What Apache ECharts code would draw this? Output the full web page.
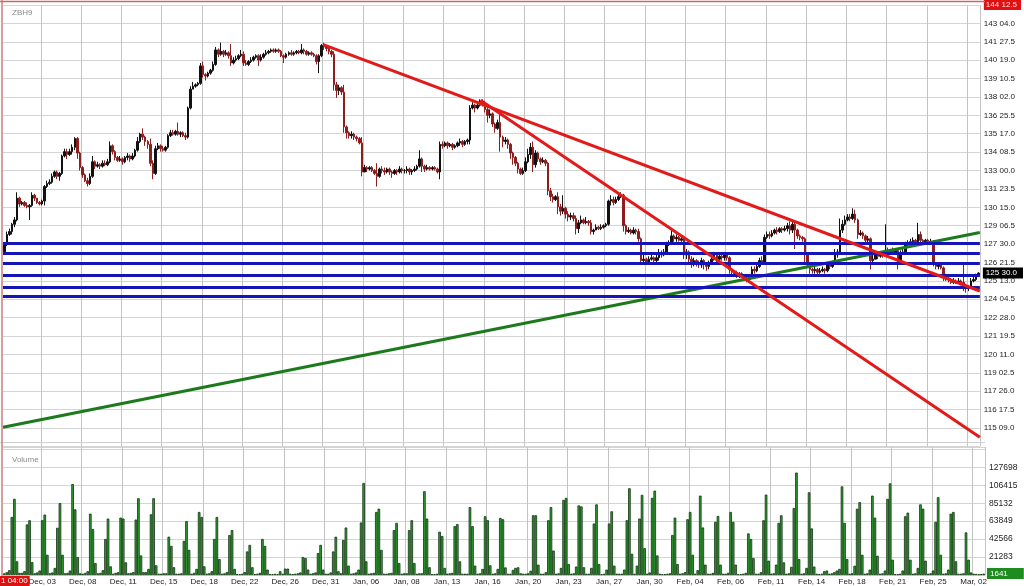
<!DOCTYPE html>
<html>
<head>
<meta charset="utf-8">
<script src="https://cdn.jsdelivr.net/npm/echarts@6/dist/echarts.min.js"></script>
<style>
html,body{margin:0;padding:0;background:#ffffff;}
#chart{width:1024px;height:586px;}
</style>
</head>
<body>
<div id="chart"></div>
<script>
// ---------------- data ----------------
const symbolName = 'ZBH9';
const cursorTime = '1 04:00';

// x-axis date labels (one every 16 four-hour bars, first at bar 15)
const dateLabels = ['Dec, 03','Dec, 08','Dec, 11','Dec, 15','Dec, 18','Dec, 22','Dec, 26','Dec, 31',
  'Jan, 06','Jan, 08','Jan, 13','Jan, 16','Jan, 20','Jan, 23','Jan, 27','Jan, 30',
  'Feb, 04','Feb, 06','Feb, 11','Feb, 14','Feb, 18','Feb, 21','Feb, 25','Mar, 02'];

// price axis labels (points and 32nds)
const priceTickLabels = ['115 09.0','116 17.5','117 26.0','119 02.5','120 11.0','121 19.5','122 28.0',
  '124 04.5','125 13.0','126 21.5','127 30.0','129 06.5','130 15.0','131 23.5','133 00.0','134 08.5',
  '135 17.0','136 25.5','138 02.0','139 10.5','140 19.0','141 27.5','143 04.0','144 12.5'];

// volume axis labels
const volumeTickLabels = [21283, 42566, 63849, 85132, 106415, 127698];

// OHLC bars: [open, close, low, high]
const ohlc = [
[127.4,127.9,127.3,128.0],[127.9,128.6,127.8,128.8],[128.6,128.8,128.5,129.0],[128.8,129.3,128.6,129.4],[129.3,129.6,129.1,129.8],[129.6,131.1,129.5,131.5],[131.1,130.7,130.5,131.2],[130.7,130.8,130.6,130.9],
[130.8,130.6,130.5,130.9],[130.6,130.5,130.4,130.8],[130.5,130.6,129.6,130.7],[130.6,131.3,130.5,131.5],[131.3,131.1,130.9,131.4],[131.1,130.8,130.7,131.1],[130.8,130.7,130.6,130.9],[130.7,130.9,130.6,131.0],
[130.9,131.9,130.6,132.0],[131.9,132.1,131.8,132.3],[132.1,132.2,132.0,132.4],[132.2,132.6,132.1,132.8],[132.6,132.9,132.5,133.0],[132.9,132.6,132.4,133.0],[132.6,132.8,132.3,132.9],[132.8,134.0,132.7,134.1],
[134.0,134.3,133.9,134.5],[134.3,134.1,133.8,134.5],[134.1,134.3,134.0,134.5],[134.3,134.6,134.1,134.8],[134.6,135.2,134.4,135.3],[135.2,134.2,133.8,135.3],[134.2,133.2,133.0,134.3],[133.2,132.7,132.5,133.3],
[132.7,132.3,132.2,132.8],[132.3,132.1,131.9,132.5],[132.1,132.6,132.0,132.8],[132.6,133.6,132.5,134.0],[133.6,133.3,133.1,133.7],[133.3,133.4,133.2,133.6],[133.4,133.3,133.1,133.5],[133.3,133.5,133.2,133.7],
[133.5,133.4,133.3,133.7],[133.4,133.6,133.3,133.8],[133.6,134.7,133.5,135.0],[134.7,134.3,134.1,134.8],[134.3,133.9,133.7,134.4],[133.9,133.7,133.6,134.0],[133.7,133.8,133.6,134.0],[133.8,133.6,133.4,133.9],
[133.6,133.9,133.5,134.0],[133.9,134.0,133.7,134.2],[134.0,133.8,133.6,134.1],[133.8,134.0,133.7,134.2],[134.0,134.4,133.9,134.5],[134.4,135.0,134.3,135.3],[135.0,135.5,134.9,135.6],[135.5,135.3,135.1,135.9],
[135.3,135.0,134.7,135.4],[135.0,134.8,134.5,135.1],[134.8,133.5,133.3,135.2],[133.5,132.8,132.4,133.7],[132.8,134.5,132.7,134.7],[134.5,134.7,134.4,134.9],[134.7,134.5,134.3,134.8],[134.5,134.4,134.3,134.7],
[134.4,134.6,134.3,134.7],[134.6,135.4,134.5,135.5],[135.4,135.6,135.3,135.8],[135.6,135.5,135.4,135.8],[135.5,135.7,135.4,135.8],[135.7,135.5,135.4,136.3],[135.5,135.6,135.3,135.7],[135.6,135.4,135.3,135.7],
[135.4,135.3,135.1,135.6],[135.3,137.3,135.2,137.4],[137.3,138.6,137.2,138.8],[138.6,138.8,138.6,139.1],[138.8,138.9,138.7,139.0],[138.9,139.0,138.8,139.1],[139.0,140.2,138.9,140.4],[140.2,139.6,139.4,140.5],
[139.6,139.5,139.2,139.7],[139.5,139.7,139.4,139.8],[139.7,139.9,139.6,140.0],[139.9,140.3,139.8,140.5],[140.3,141.3,140.2,141.5],[141.3,141.0,140.8,141.4],[141.0,141.2,140.9,141.8],[141.2,141.0,140.8,141.3],
[141.0,141.1,140.9,141.3],[141.1,140.9,140.7,141.2],[140.9,140.4,140.2,141.7],[140.4,140.6,140.3,140.8],[140.6,140.7,140.5,140.9],[140.7,140.9,140.6,141.0],[140.9,141.0,140.8,141.3],[141.0,140.4,140.2,141.2],
[140.4,140.3,140.2,140.6],[140.3,140.5,140.2,140.6],[140.5,140.6,140.4,140.8],[140.6,140.8,140.5,140.9],[140.8,140.9,140.7,141.0],[140.9,140.6,140.2,141.0],[140.6,140.8,140.5,141.0],[140.8,141.0,140.7,141.1],
[141.0,141.1,140.9,141.3],[141.1,141.2,141.0,141.3],[141.2,141.3,141.1,141.4],[141.3,141.2,141.1,141.4],[141.2,141.3,141.1,141.4],[141.3,141.2,141.1,141.4],[141.2,140.9,140.8,141.3],[140.9,140.8,140.4,141.0],
[140.8,141.0,140.7,141.1],[141.0,141.1,140.9,141.2],[141.1,141.0,140.9,141.3],[141.0,141.1,140.9,141.2],[141.1,141.2,141.0,141.3],[141.2,141.1,141.0,141.3],[141.1,141.3,141.0,141.7],[141.3,141.2,141.0,141.4],
[141.2,141.0,140.9,141.3],[141.0,141.1,140.9,141.2],[141.1,141.0,140.9,141.2],[141.0,140.9,140.8,141.1],[140.9,140.5,140.3,141.0],[140.5,140.9,139.7,141.0],[140.9,141.6,140.8,141.7],[141.6,141.5,141.3,141.8],
[141.5,141.4,141.2,141.6],[141.4,141.2,141.0,141.5],[141.2,141.0,140.8,141.3],[141.0,138.9,138.5,141.2],[138.9,138.5,138.0,139.1],[138.5,138.7,138.2,138.9],[138.7,138.4,138.2,138.8],[138.4,136.0,135.6,138.9],
[136.0,135.6,135.2,136.1],[135.6,135.4,135.2,135.7],[135.4,135.5,135.2,135.7],[135.5,135.3,135.1,135.6],[135.3,135.2,135.0,135.4],[135.2,134.9,134.8,135.3],[134.9,132.9,132.6,135.3],[132.9,133.2,132.9,133.4],
[133.2,133.1,132.9,133.3],[133.1,133.2,133.0,133.3],[133.2,133.0,132.9,133.3],[133.0,132.8,132.7,133.1],[132.8,132.6,131.9,133.5],[132.6,133.1,132.5,133.2],[133.1,133.0,132.8,133.3],[133.0,132.9,132.7,133.2],
[132.9,133.1,132.8,133.2],[133.1,132.9,132.7,133.2],[132.9,132.8,132.5,133.0],[132.8,133.0,132.7,133.1],[133.0,132.9,132.7,133.1],[132.9,133.1,132.8,133.3],[133.1,133.0,132.8,133.2],[133.0,133.0,132.8,133.1],
[133.0,133.1,132.8,133.3],[133.1,132.9,132.7,133.2],[132.9,133.0,132.7,133.1],[133.0,133.1,132.9,133.3],[133.1,133.3,133.0,133.4],[133.3,133.8,133.2,134.4],[133.8,133.3,132.9,133.9],[133.3,133.1,132.9,133.4],
[133.1,133.2,133.0,133.4],[133.2,133.1,133.0,133.3],[133.1,133.2,133.0,133.3],[133.2,133.1,133.0,133.3],[133.1,132.9,132.8,133.2],[132.9,134.8,132.4,135.0],[134.8,134.7,134.5,135.0],[134.7,134.9,134.6,135.0],
[134.9,134.7,134.5,135.0],[134.7,134.8,134.6,134.9],[134.8,134.6,134.4,134.9],[134.6,134.7,134.5,134.8],[134.7,134.9,134.6,135.0],[134.9,135.0,134.7,135.2],[135.0,134.8,134.6,135.1],[134.8,135.0,134.7,135.1],
[135.0,135.1,134.8,135.2],[135.1,137.3,134.8,137.5],[137.3,137.5,137.2,137.7],[137.5,137.3,137.0,137.6],[137.3,137.5,137.2,137.7],[137.5,137.7,137.4,137.9],[137.7,137.6,137.4,137.9],[137.6,137.2,137.0,137.8],
[137.2,136.8,136.3,137.4],[136.8,136.9,136.6,137.2],[136.9,136.2,136.0,137.0],[136.2,135.9,135.6,136.3],[135.9,136.3,135.8,136.5],[136.3,135.3,134.3,137.0],[135.3,135.0,134.6,135.4],[135.0,135.1,134.8,135.3],
[135.1,134.8,134.5,135.2],[134.8,134.2,133.8,134.9],[134.2,133.9,133.4,134.3],[133.9,133.5,133.3,134.0],[133.5,133.1,132.8,133.6],[133.1,132.8,132.7,133.2],[132.8,133.0,132.7,133.2],[133.0,133.6,132.9,133.9],
[133.6,134.1,133.5,134.5],[134.1,134.6,133.8,134.9],[134.6,133.4,132.9,135.0],[133.4,134.2,133.2,134.4],[134.2,133.8,133.6,134.3],[133.8,133.6,133.4,133.9],[133.6,133.7,133.5,133.9],[133.7,133.5,133.3,133.8],
[133.5,131.6,131.3,133.6],[131.6,131.2,130.9,131.8],[131.2,131.0,130.8,131.4],[131.0,131.2,130.9,131.3],[131.2,130.5,130.0,131.5],[130.5,130.2,129.9,130.7],[130.2,130.4,130.0,131.3],[130.4,130.0,129.7,130.5],
[130.0,129.8,129.5,130.2],[129.8,129.9,129.6,130.1],[129.9,129.7,129.5,130.1],[129.7,129.0,128.6,129.9],[129.0,129.4,128.7,129.6],[129.4,129.6,129.3,129.9],[129.6,129.4,129.3,129.7],[129.4,129.5,129.3,129.8],
[129.5,129.4,129.2,129.6],[129.4,128.8,128.6,129.6],[128.8,128.9,128.6,129.0],[128.9,129.1,128.9,129.3],[129.1,129.0,128.9,129.2],[129.0,129.1,128.9,129.3],[129.1,129.2,129.0,129.3],[129.2,129.3,129.1,129.4],
[129.3,130.9,129.2,131.0],[130.9,131.0,130.6,131.3],[131.0,130.8,130.6,131.2],[130.8,131.0,130.7,131.2],[131.0,131.2,130.9,131.4],[131.2,131.3,131.1,131.5],[131.3,129.2,128.8,131.4],[129.2,128.8,128.6,129.3],
[128.8,128.9,128.7,129.1],[128.9,128.7,128.6,129.0],[128.7,128.9,128.6,129.1],[128.9,128.8,128.6,129.0],[128.8,128.3,128.1,129.0],[128.3,126.8,126.5,128.4],[126.8,126.9,126.6,127.2],[126.9,126.7,126.6,127.0],
[126.7,126.9,126.6,127.1],[126.9,127.0,126.8,127.2],[127.0,126.8,126.6,127.1],[126.8,127.0,126.7,127.2],[127.0,127.3,126.8,127.6],[127.3,127.2,127.0,127.5],[127.2,127.4,127.1,127.6],[127.4,127.9,127.3,128.1],
[127.9,128.0,127.8,128.2],[128.0,128.5,127.9,128.9],[128.5,128.3,128.1,128.6],[128.3,128.4,128.1,128.6],[128.4,128.2,128.1,128.5],[128.2,128.3,128.1,128.5],[128.3,127.2,126.9,128.4],[127.2,127.4,126.9,127.6],
[127.4,126.9,126.6,127.5],[126.9,126.6,126.3,127.1],[126.6,126.8,126.4,127.0],[126.8,126.6,126.4,126.9],[126.6,126.5,126.3,126.8],[126.5,126.8,126.3,127.0],[126.8,126.6,126.2,126.9],[126.6,126.4,126.1,126.7],
[126.4,126.6,126.2,126.8],[126.6,126.9,126.5,127.1],[126.9,127.2,126.8,127.4],[127.2,126.9,126.7,127.3],[126.9,127.1,126.8,127.3],[127.1,127.0,126.8,127.2],[127.0,127.2,126.8,127.3],[127.2,127.0,126.8,127.3],
[127.0,126.2,125.9,127.1],[126.2,126.0,125.8,126.3],[126.0,125.9,125.7,126.1],[125.9,125.8,125.6,126.1],[125.8,125.9,125.6,126.0],[125.9,125.7,125.6,126.0],[125.7,125.6,125.4,125.8],[125.6,125.5,125.3,125.7],
[125.5,125.7,125.4,125.8],[125.7,126.2,125.6,126.4],[126.2,126.1,125.9,126.4],[126.1,126.4,126.0,126.6],[126.4,126.8,126.3,127.0],[126.8,126.7,126.5,127.1],[126.7,128.4,126.6,128.6],[128.4,128.6,128.3,128.8],
[128.6,128.5,128.3,128.8],[128.5,128.7,128.4,128.9],[128.7,128.9,128.6,129.0],[128.9,128.8,128.6,129.1],[128.8,129.0,128.7,129.1],[129.0,128.9,128.7,129.1],[128.9,129.0,128.8,129.2],[129.0,129.2,128.8,129.4],
[129.2,128.9,128.6,129.5],[128.9,129.3,128.7,129.5],[129.3,128.9,127.6,129.4],[128.9,128.5,128.3,129.0],[128.5,128.4,128.2,128.6],[128.4,128.3,128.1,128.5],[128.3,127.2,126.7,128.4],[127.2,126.6,126.4,127.3],
[126.6,126.2,125.9,126.7],[126.2,126.1,125.9,126.3],[126.1,126.2,125.9,126.4],[126.2,126.0,125.8,126.3],[126.0,126.1,125.9,126.3],[126.1,126.2,126.0,126.4],[126.2,126.1,125.9,126.3],[126.1,126.5,126.0,126.7],
[126.5,126.4,126.2,126.7],[126.4,126.6,126.3,126.8],[126.6,127.2,126.5,127.6],[127.2,127.4,127.0,127.6],[127.4,128.9,127.3,129.7],[128.9,129.3,128.7,129.6],[129.3,129.6,129.2,129.9],[129.6,129.8,129.5,130.0],
[129.8,129.7,129.5,130.0],[129.7,130.0,129.6,130.4],[130.0,129.6,129.4,130.3],[129.6,128.6,128.3,129.7],[128.6,128.7,128.5,128.9],[128.7,128.5,128.3,128.8],[128.5,128.2,128.0,128.6],[128.2,128.3,128.0,128.5],
[128.3,126.8,126.2,128.4],[126.8,126.9,126.5,127.2],[126.9,127.2,126.9,127.4],[127.2,127.1,126.9,127.4],[127.1,127.3,127.0,127.4],[127.3,127.2,127.0,127.4],[127.2,127.5,127.1,129.3],[127.5,127.4,127.3,127.7],
[127.4,127.5,127.3,127.6],[127.5,127.4,127.3,127.7],[127.4,127.5,127.3,127.6],[127.5,126.7,126.2,127.6],[126.7,127.3,126.5,127.5],[127.3,127.4,127.2,127.6],[127.4,127.9,127.3,128.1],[127.9,128.0,127.8,128.2],
[128.0,128.1,127.9,128.3],[128.1,128.2,128.0,128.4],[128.2,128.1,127.9,128.3],[128.1,128.6,127.9,129.4],[128.6,128.2,128.0,128.8],[128.2,128.1,127.9,128.3],[128.1,128.2,128.0,128.3],[128.2,128.0,127.9,128.3],
[128.0,128.1,127.9,128.3],[128.1,126.6,126.4,128.2],[126.6,126.4,126.2,126.7],[126.4,126.5,126.2,126.6],[126.5,126.3,126.2,126.6],[126.3,125.8,125.4,126.4],[125.8,125.6,125.4,125.9],[125.6,125.5,125.3,125.8],
[125.5,125.3,125.2,125.6],[125.3,125.4,125.2,125.6],[125.4,125.3,125.2,125.5],[125.3,125.4,125.2,125.6],[125.4,125.3,125.1,125.5],[125.3,125.1,124.7,126.5],[125.1,124.9,124.6,125.2],[124.9,125.0,124.7,125.1],
[125.0,125.4,124.9,125.6],[125.4,125.5,125.3,125.7],[125.5,125.8,125.4,125.9],[125.8,125.94,125.7,126.0]
];

// volume per bar
const volume = [
2000,3300,5700,68800,90300,16200,2500,2500,4500,59900,64900,15400,2000,3000,5300,64900,
71600,24000,2000,3000,8400,56000,85200,24000,2000,2500,5300,107800,77800,21300,2000,1500,
2500,4500,72700,54400,14200,2000,2500,5700,42700,66900,10300,1500,2500,3300,68000,66900,
15000,2000,2500,3300,65700,91000,23200,3300,3300,7200,71900,91000,11500,1500,1500,2000,
2000,45400,34500,9200,1500,1500,2000,40400,63800,29800,1500,2500,7200,74700,68800,10300,
1500,2000,4500,42700,68800,18900,1500,2000,3500,47400,53200,7200,1000,1000,1500,3500,
27900,35700,9200,1000,1500,2500,42700,34500,6400,1000,1000,1400,1000,4500,1500,7600,
7600,1500,1000,1500,2000,3000,21300,20100,6400,1500,2000,3000,26000,35700,6400,1500,
1500,3000,27900,45400,4500,2000,41500,56300,11100,1500,2000,3000,6400,62200,109000,16200,
1500,2000,2500,74700,78600,29800,1500,1500,2000,2500,53200,61800,14200,1500,2000,2000,
53200,64900,14200,1500,2000,2000,99300,66900,9200,1000,1000,1500,51300,46200,8400,1500,
2000,2500,57900,60300,16200,1500,1500,1500,80500,57900,11100,1500,2000,7200,69600,64900,
11500,1500,2000,7200,67600,66100,9000,1500,1500,6000,8400,9200,2000,1500,1500,2000,
5000,70800,70800,12300,1500,1500,3300,64900,80500,29000,1500,2000,8400,89000,91400,13000,
1500,2000,10000,82500,81300,9200,1500,1500,8400,61000,83700,13000,1000,1500,6400,61000,
75500,11100,1500,1500,1500,6400,64900,102800,25200,1500,11100,66900,95000,31800,1500,3000,
91400,100000,23200,1500,1000,1000,1500,2000,47400,68000,13000,1500,2000,3300,66100,74700,
24000,1500,5700,94100,56300,12300,1500,1500,2500,63000,70000,12300,1500,1500,2500,74700,
63000,12300,1000,1000,1500,2500,49300,42700,20100,1500,1500,3300,64900,95300,17000,1500,
2000,12300,61800,70800,15000,1500,2000,9600,79400,121400,18900,1500,2000,8400,98000,55200,
10000,1500,1000,1500,4500,5300,1500,2000,3300,5300,7200,105000,61800,18900,1500,2000,
11000,78600,86400,24000,1500,2000,6400,94100,68000,22800,1500,2000,5300,90300,108600,18100,
1000,1000,1500,5300,69600,73900,18100,1500,2000,8400,83700,78600,17000,1500,2000,5300,
63000,92200,24000,1500,2000,6400,72700,74700,16200,1500,1500,2000,50500,18100,3000,1500,
1200,900,1100,1641
];

// horizontal support / resistance levels (blue)
const levelPrices = [127.97, 127.28, 126.64, 125.81, 125.00, 124.36];
// trend lines: [barIndex, price] end points
const redTrendA = [[126.7, 141.66], [387.5, 124.71]];
const redTrendB = [[189.1, 137.83], [387.5, 114.65]];
const greenTrend = [[-0.5, 115.33], [387.5, 128.74]];

// ---------------- helpers ----------------
const priceTickValues = priceTickLabels.map(s => {
  const p = s.split(' ');
  return Number(p[0]) + parseFloat(p[1]) / 32;
});
function to32(v) {
  let w = Math.floor(v);
  let f = Math.round((v - w) * 64) / 2;
  if (f >= 32) { w += 1; f -= 32; }
  return w + ' ' + (f < 10 ? '0' : '') + f.toFixed(1);
}
const categories = ohlc.map((d, i) => String(i));
const lastClose = ohlc[ohlc.length - 1][1];
const lastVolume = volume[volume.length - 1];
const FONT = 'Liberation Sans';
const labelEvery = (i) => i % 16 === 15;
const HIDDEN = 'rgba(0,0,0,0)';

const chart = echarts.init(document.getElementById('chart'), null, {renderer: 'canvas'});
const gridLine = '#d4d4d4';
const vGridLine = '#c4c4c4';

const option = {
  animation: false,
  backgroundColor: '#ffffff',
  textStyle: {fontFamily: FONT},
  title: [
    {text: symbolName, left: 7, top: 4, textStyle: {fontSize: 8, fontWeight: 'normal', color: '#8a8a8a', fontFamily: FONT}},
    {text: 'Volume', left: 7, top: 451, textStyle: {fontSize: 8, fontWeight: 'normal', color: '#8a8a8a', fontFamily: FONT}}
  ],
  grid: [
    {left: 3, top: 2, width: 982, height: 444.4},
    {left: 3, top: 447, width: 982, height: 128.3}
  ],
  xAxis: [
    {type: 'category', gridIndex: 0, data: categories, boundaryGap: true,
     axisLine: {show: false}, axisTick: {show: false}, axisLabel: {show: false},
     splitLine: {show: true, interval: labelEvery, lineStyle: {color: vGridLine, width: 1}}},
    {type: 'category', gridIndex: 1, data: categories, boundaryGap: true,
     axisLine: {show: true, lineStyle: {color: '#c8c8c8'}}, axisTick: {show: false},
     axisLabel: {show: true, interval: labelEvery, margin: 3, fontSize: 8, color: '#222', fontFamily: FONT,
       formatter: (v, i) => { const k = (i - 15) / 16; return dateLabels[k] !== undefined ? dateLabels[k] : ''; }},
     splitLine: {show: true, interval: labelEvery, lineStyle: {color: vGridLine, width: 1}}},
    {type: 'value', gridIndex: 0, min: -0.5, max: ohlc.length - 0.5, show: false}
  ],
  yAxis: [
    {type: 'value', gridIndex: 0, position: 'right', scale: true,
     min: 114.015625, max: 144.390625, interval: 1.265625,
     axisLine: {show: false}, axisTick: {show: false},
     axisLabel: {show: true, margin: 4, fontSize: 8, color: '#222', fontFamily: FONT, showMaxLabel: true, showMinLabel: true,
       formatter: (v) => {
         const k = priceTickValues.findIndex(t => Math.abs(t - v) < 1e-6);
         if (k < 0) return '';
         return k === priceTickValues.length - 1 ? '{top|' + priceTickLabels[k] + '}' : priceTickLabels[k];
       },
       rich: {top: {backgroundColor: '#e01010', color: '#ffe0e0', fontSize: 8, padding: [1, 4, 1, 2], fontFamily: FONT}}},
     splitLine: {show: true, lineStyle: {color: gridLine, width: 1}}},
    {type: 'value', gridIndex: 1, position: 'right', min: 0, max: 151700, interval: 21283,
     axisLine: {show: false}, axisTick: {show: false},
     axisLabel: {show: true, margin: 4, fontSize: 8.5, color: '#222', fontFamily: FONT,
       formatter: (v) => volumeTickLabels.indexOf(v) >= 0 ? String(v) : ''},
     splitLine: {show: true, lineStyle: {color: gridLine, width: 1}}}
  ],
  series: [
    {
      name: 'Price', type: 'candlestick', xAxisIndex: 0, yAxisIndex: 0, data: ohlc,
      barWidth: 2,
      itemStyle: {color: '#111111', color0: '#8e1d1d', borderColor: '#111111', borderColor0: '#8e1d1d', borderWidth: 1},
      markLine: {
        silent: true, symbol: ['none', 'none'],
        data: levelPrices.map(v => ({yAxis: v, lineStyle: {color: '#1414b8', width: 3, type: 'solid'}, label: {show: false}}))
      },
      z: 2
    },
    {
      name: 'Last price', type: 'line', xAxisIndex: 2, yAxisIndex: 0, data: [],
      markLine: {
        silent: true, symbol: ['none', 'none'],
        data: [{yAxis: lastClose, lineStyle: {color: HIDDEN, width: 1}, label: {show: true, position: 'end', distance: 3,
          formatter: () => to32(lastClose), backgroundColor: '#000000', color: '#ffffff', fontSize: 8,
          padding: [2, 6, 1, 3], fontFamily: FONT}}]
      },
      z: 10
    },
    {
      name: 'Trend green', type: 'line', xAxisIndex: 2, yAxisIndex: 0, data: greenTrend,
      showSymbol: false, symbol: 'none', silent: true, lineStyle: {color: '#1c7a1c', width: 3}, z: 4
    },
    {
      name: 'Trend red A', type: 'line', xAxisIndex: 2, yAxisIndex: 0, data: redTrendA,
      showSymbol: false, symbol: 'none', silent: true, lineStyle: {color: '#e21a1a', width: 3}, z: 5
    },
    {
      name: 'Trend red B', type: 'line', xAxisIndex: 2, yAxisIndex: 0, data: redTrendB,
      showSymbol: false, symbol: 'none', silent: true, lineStyle: {color: '#e21a1a', width: 3}, z: 5
    },
    {
      name: 'Volume', type: 'bar', xAxisIndex: 1, yAxisIndex: 1, data: volume,
      barWidth: 2.6, itemStyle: {color: '#2f9f2f', borderColor: '#103510', borderWidth: 0.8},
      markLine: {
        silent: true, symbol: ['none', 'none'],
        data: [{yAxis: lastVolume, lineStyle: {color: HIDDEN, width: 1}, label: {show: true, position: 'end', distance: 2,
          formatter: () => String(lastVolume), backgroundColor: '#1e8c1e', color: '#ffffff', fontSize: 8,
          padding: [2, 16, 1, 3], fontFamily: FONT}}]
      }
    }
  ],
  graphic: [
    {type: 'line', shape: {x1: 0, y1: 1.5, x2: 985, y2: 1.5}, style: {stroke: '#c46a6a', lineWidth: 1.5}, z: 100},
    {type: 'line', shape: {x1: 2, y1: 0, x2: 2, y2: 586}, style: {stroke: '#c48080', lineWidth: 1.5}, z: 100},
    {type: 'line', shape: {x1: 0, y1: 442.5, x2: 985, y2: 442.5}, style: {stroke: '#d0d0d0', lineWidth: 1}, z: 1},
    {type: 'text', left: 0, top: 576, z: 100,
     style: {text: cursorTime, fill: '#ffffff', fontSize: 8, fontFamily: FONT, backgroundColor: '#e01010', padding: [1, 2, 1, 1]}}
  ]
};
chart.setOption(option);
</script>
</body>
</html>
